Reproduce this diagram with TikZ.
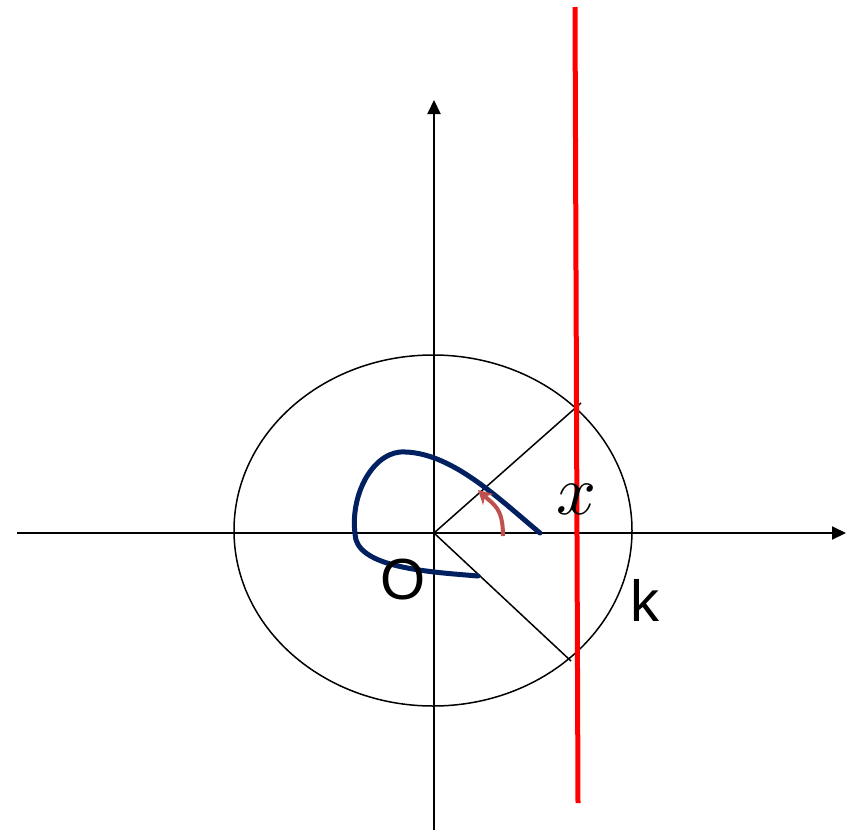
\documentclass[tikz,border=0pt]{standalone}
\usepackage{fontspec}
\setmainfont{Liberation Sans}
\usepackage{graphicx}
\usetikzlibrary{arrows.meta}
\definecolor{navy}{HTML}{002060}
\definecolor{brick}{HTML}{C0504D}
\begin{document}
\begin{tikzpicture}[x=1pt,y=-1pt,
  axis/.style={line width=2pt,-{Triangle[length=14pt,width=13pt]}},
  thin/.style={line width=1.5pt},
  lbl/.style={inner sep=0pt,font=\fontsize{58}{58}\selectfont}]
\useasboundingbox (0,0) rectangle (859,830);
\coordinate (O) at (434,533);
\coordinate (xl) at (17,533);
\coordinate (xr) at (846,533);
\coordinate (yb) at (434,830);
\coordinate (yt) at (434,100);
\draw[axis] (xl) -- (xr);
\draw[axis] (yb) -- (yt);
\draw[thin] (433,530.5) ellipse [x radius=199, y radius=175.5];
\coordinate (P1) at (581,403);
\coordinate (P2) at (571,661);
\draw[thin] (O) -- (P1);
\draw[thin] (O) -- (P2);
\coordinate (r1) at (575,7);
\coordinate (r2) at (578,803);
\draw[red, line width=5pt] (r1) -- (r2);
\draw[navy, line width=5pt, line cap=round]
  (540,533) .. controls (500,500) and (450,450) .. (400,452)
  .. controls (370,455) and (348,500) .. (356,540)
  .. controls (365,568) and (430,572) .. (478,576);
\draw[brick, line width=4pt, -{Stealth[length=14pt,width=15pt]}]
  (503,536) .. controls (503,508) and (494,505) .. (478,490);
\node[lbl] (lO) at (403,580) {O};
\node[lbl] (lk) at (645,600) {k};
\node[inner sep=0pt] (lx) at (576,499) {\scalebox{7}{$x$}};
\end{tikzpicture}
\end{document}
